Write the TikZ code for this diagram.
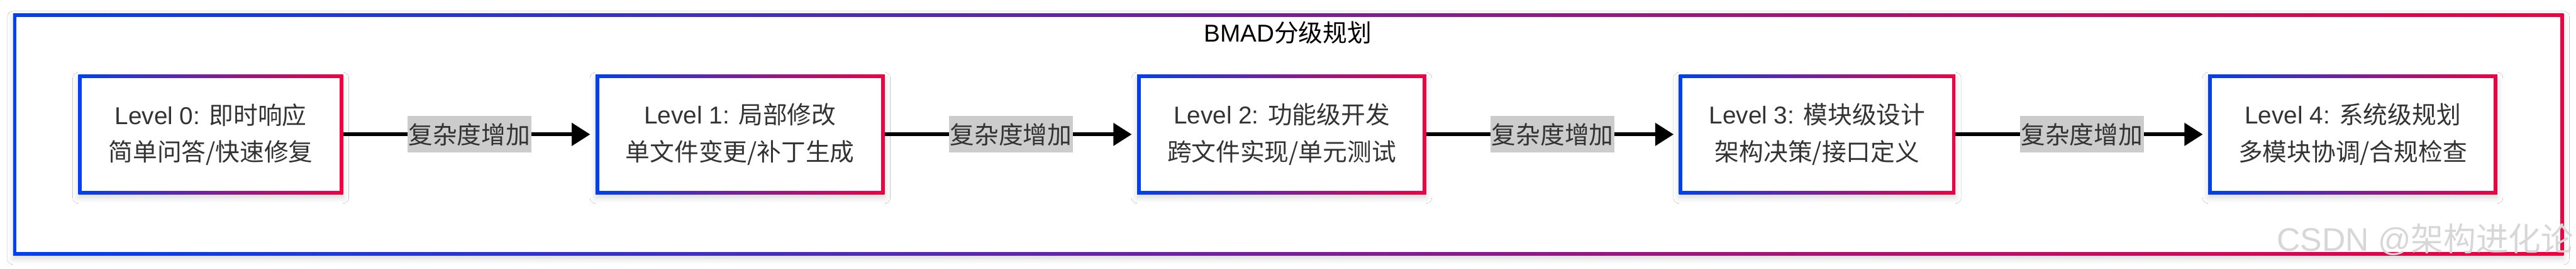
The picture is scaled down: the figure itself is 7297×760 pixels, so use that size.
\documentclass[tikz,border=0pt]{standalone}
\usepackage{fontspec}
\setmainfont{Liberation Sans}
\newfontfamily\cjk{Noto Sans CJK SC}
\usetikzlibrary{arrows.meta,shadows.blur}
\definecolor{cblue}{RGB}{0,64,240}
\definecolor{cred}{RGB}{240,0,64}
\definecolor{ctext}{RGB}{51,51,51}
\definecolor{clabel}{RGB}{204,204,204}
\definecolor{cwater}{RGB}{215,215,215}
\tikzset{
  gradbox/.style={inner sep=0pt, left color=cblue, right color=cred,
    path picture={\fill[white] ([shift={(10pt,-10pt)}]path picture bounding box.north west) rectangle ([shift={(-10pt,10pt)}]path picture bounding box.south east);}},
  softshadow/.style={blur shadow={shadow xshift=0pt, shadow yshift=-10pt, shadow blur radius=16pt, shadow opacity=15}},
  lvl/.style={gradbox, softshadow, minimum height=338pt, text=ctext, align=center,
    font=\fontsize{69}{104}\selectfont},
  edgelabel/.style={fill=clabel, text=ctext, inner xsep=3pt, inner ysep=0pt,
    minimum height=104pt, font=\fontsize{69}{104}\selectfont\cjk},
  conn/.style={line width=10pt, -{Triangle[length=52pt,width=63pt]}, shorten >=15pt},
  titletext/.style={text=black, inner sep=0pt, font=\fontsize{69}{80}\selectfont},
  watermark/.style={text=cwater, inner sep=0pt, anchor=east, font=\fontsize{92}{100}\selectfont},
}
\begin{document}
\begin{tikzpicture}[x=1pt,y=-1pt]
\useasboundingbox (0,0) rectangle (7297,760);
\fill[white] (0,0) rectangle (7297,760);
% outer frame
\node (frame) [gradbox, softshadow, minimum width=7225pt, minimum height=684pt] at (3649.5,380) {};
\node (title) [titletext] at (3648,92) {BMAD{\cjk 分级规划}};
% level boxes
\node (b0) [lvl, minimum width=750pt] at (597,380) {Level 0: {\cjk 即时响应}\\{\cjk 简单问答/快速修复}};
\node (b1) [lvl, minimum width=819pt] at (2096.5,380) {Level 1: {\cjk 局部修改}\\{\cjk 单文件变更/补丁生成}};
\node (b2) [lvl, minimum width=819pt] at (3630.5,380) {Level 2: {\cjk 功能级开发}\\{\cjk 跨文件实现/单元测试}};
\node (b3) [lvl, minimum width=783pt] at (5147.5,380) {Level 3: {\cjk 模块级设计}\\{\cjk 架构决策/接口定义}};
\node (b4) [lvl, minimum width=819pt] at (6664.5,380) {Level 4: {\cjk 系统级规划}\\{\cjk 多模块协调/合规检查}};
% connectors
\draw[conn] (b0.east) -- node[edgelabel] {复杂度增加} (b1.west);
\draw[conn] (b1.east) -- node[edgelabel] {复杂度增加} (b2.west);
\draw[conn] (b2.east) -- node[edgelabel] {复杂度增加} (b3.west);
\draw[conn] (b3.east) -- node[edgelabel] {复杂度增加} (b4.west);
% watermark
\node (wm) [watermark] at (7290,677) {CSDN @{\cjk 架构进化论}};
\end{tikzpicture}
\end{document}
